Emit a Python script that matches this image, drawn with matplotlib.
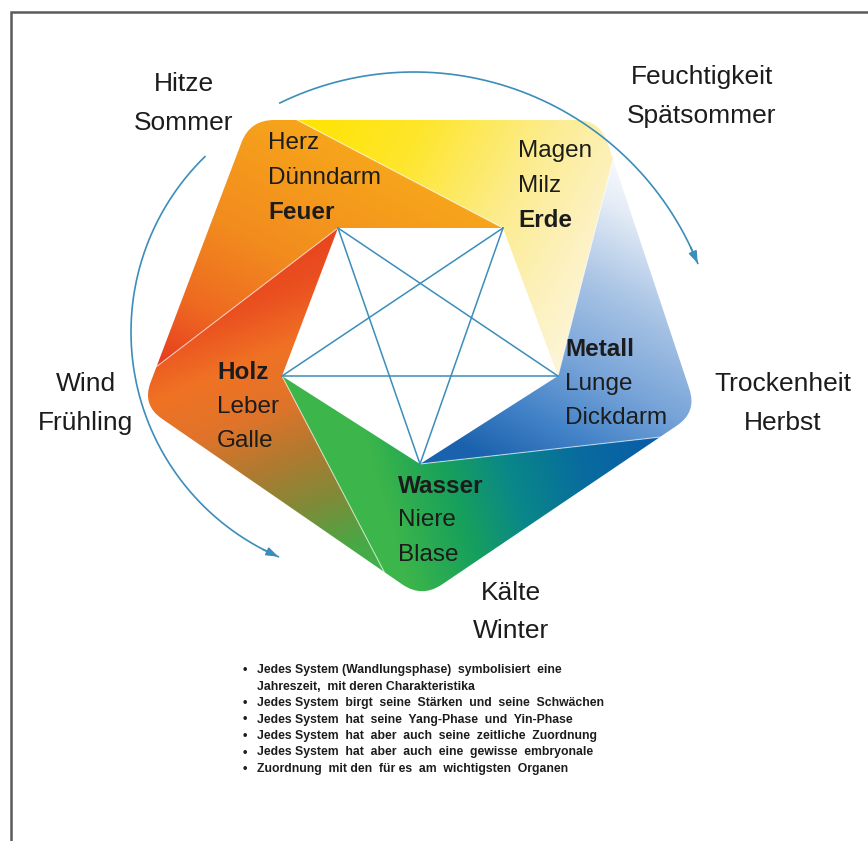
import matplotlib
matplotlib.use("Agg")
import matplotlib.pyplot as plt
import numpy as np
from matplotlib.path import Path
from matplotlib.patches import PathPatch
from matplotlib.colors import to_rgb

plt.rcParams['font.family'] = ['Liberation Sans', 'DejaVu Sans']

W, H = 868, 841

# === DIAGRAM CONTENT ===
elements = ["Feuer", "Erde", "Metall", "Wasser", "Holz"]
organs = [["Herz", "Dünndarm"], ["Magen", "Milz"], ["Lunge", "Dickdarm"],
          ["Niere", "Blase"], ["Leber", "Galle"]]
seasons = [["Hitze", "Sommer"], ["Feuchtigkeit", "Spätsommer"], ["Trockenheit", "Herbst"],
           ["Kälte", "Winter"], ["Wind", "Frühling"]]
bullets = [
    "Jedes System (Wandlungsphase)  symbolisiert  eine\nJahreszeit,  mit deren Charakteristika",
    "Jedes System  birgt  seine  Stärken  und  seine  Schwächen",
    "Jedes System  hat  seine  Yang-Phase  und  Yin-Phase",
    "Jedes System  hat  aber  auch  seine  zeitliche  Zuordnung",
    "Jedes System  hat  aber  auch  eine  gewisse  embryonale",
    "Zuordnung  mit den  für es  am  wichtigsten  Organen",
]

# === LAYOUT (pixel space, y down) ===
inner = np.array([[338, 228], [503, 228], [558, 376], [420, 464], [282, 376]], float)
outer = np.array([[250, 120], [600, 120], [697, 412], [422, 598], [142, 405]], float)
split = 0.135      # where each band boundary meets the outer edge
corner_cut = 24    # rounding of outer corners

# gradient per band: start, end, colour stops
grads = [
    ((300, 120), (170, 370), [(0, "#f7a51b"), (0.45, "#f28c1e"), (0.75, "#ee6a21"), (1, "#e63c1f")]),
    ((300, 122), (620, 300), [(0, "#ffe400"), (0.3, "#fee62c"), (0.6, "#fcec8e"), (0.8, "#fcf1bc"), (1, "#fdf7e2")]),
    ((620, 170), (470, 450), [(0, "#f5f7fb"), (0.1, "#e6edf7"), (0.35, "#a9c4e5"), (0.6, "#78a4d8"), (0.8, "#4483c8"), (1, "#1a62ad")]),
    ((660, 440), (390, 520), [(0, "#0a5ca9"), (0.3, "#086c9e"), (0.55, "#0a8888"), (0.75, "#16a05c"), (1, "#3cb54a")]),
    ((250, 250), (380, 570), [(0, "#e8401e"), (0.15, "#ea5020"), (0.3, "#f07224"), (0.45, "#e0742a"),
                              (0.6, "#b07a30"), (0.75, "#808a38"), (0.9, "#4aa745"), (1, "#3cb44a")]),
]

label_pos = [(268, 143), (518, 151), (565, 349), (398, 486), (217, 372)]
bold_first = [False, False, True, True, True]   # element name on top or at bottom
season_pos = [(184, 84), (702, 77), (783, 384), (511, 593), (86, 384)]

line_col = "#3b8dba"
txt_col = "#1c1c1c"

fig = plt.figure(figsize=(W / 100, H / 100), dpi=100)
ax = fig.add_axes([0, 0, 1, 1])
ax.set_xlim(0, W)
ax.set_ylim(H, 0)
ax.axis("off")

yy, xx = np.mgrid[0.5:H, 0.5:W]


def gradient(p0, p1, stops):
    d = np.subtract(p1, p0)
    t = ((xx - p0[0]) * d[0] + (yy - p0[1]) * d[1]) / (d @ d)
    t = np.clip(t, 0, 1)
    pos = [s[0] for s in stops]
    rgb = np.array([to_rgb(s[1]) for s in stops])
    return np.dstack([np.interp(t, pos, rgb[:, c]) for c in range(3)])


def unit(a, b):
    v = b - a
    return v / np.hypot(*v)


n = 5
P = [outer[k] + split * (outer[(k + 1) % n] - outer[k]) for k in range(n)]

for k in range(n):
    C = outer[k]
    A = C + corner_cut * unit(C, outer[(k + 1) % n])
    B = C + corner_cut * unit(C, outer[k - 1])
    verts = [inner[k], inner[(k + 1) % n], P[k], A, C, B, P[k - 1], inner[k]]
    codes = [Path.MOVETO, Path.LINETO, Path.LINETO, Path.LINETO,
             Path.CURVE3, Path.CURVE3, Path.LINETO, Path.CLOSEPOLY]
    patch = PathPatch(Path(verts, codes), facecolor="none", edgecolor="none")
    ax.add_patch(patch)
    im = ax.imshow(gradient(*grads[k]), extent=(0, W, H, 0), origin="upper",
                   interpolation="bilinear", aspect="auto", zorder=1)
    im.set_clip_path(patch)

# faint white seams between bands
for k in range(n):
    q = inner[(k + 1) % n]
    ax.plot([q[0], P[k][0]], [q[1], P[k][1]], color="white", lw=0.8, alpha=0.6, zorder=2)

# pentagram
for k in range(n):
    a, b = inner[k], inner[(k + 2) % n]
    ax.plot([a[0], b[0]], [a[1], b[1]], color=line_col, lw=1.1, zorder=3)

# arcs with arrowheads
arcs = [((414, 378), 306, -116, -22), ((376, 332), 245, 225.7, 113.5)]
for (cx, cy), r, t0, t1 in arcs:
    th = np.radians(np.linspace(t0, t1, 200))
    ax.plot(cx + r * np.cos(th), cy + r * np.sin(th), color=line_col, lw=1.2, zorder=3)
    ax.annotate("", xy=(cx + r * np.cos(th[-1]), cy + r * np.sin(th[-1])),
                xytext=(cx + r * np.cos(th[-8]), cy + r * np.sin(th[-8])),
                arrowprops=dict(arrowstyle="-|>,head_length=0.7,head_width=0.25",
                                color=line_col, lw=1.2, shrinkA=0, shrinkB=0), zorder=4)

# element / organ labels
step = 34.5
for k in range(n):
    x, y = label_pos[k]
    lines = [elements[k]] + organs[k] if bold_first[k] else organs[k] + [elements[k]]
    for i, s in enumerate(lines):
        ax.text(x, y + i * step, s, fontsize=17.5, color=txt_col, ha="left", va="center",
                fontweight="bold" if s == elements[k] else "normal", zorder=5)

# season labels
for k in range(n):
    x, y = season_pos[k]
    for i, s in enumerate(seasons[k]):
        ax.text(x, y + i * 38.5, s, fontsize=19, color=txt_col, ha="center", va="center", zorder=5)

# bullet list
by = 670
for b in bullets:
    ax.text(245, by, "•", fontsize=9, color=txt_col, ha="center", va="center", fontweight="bold")
    for ln in b.split("\n"):
        ax.text(257, by, ln, fontsize=8.8, color=txt_col, ha="left", va="center", fontweight="bold")
        by += 16.5

# frame
ax.plot([11, 11, W], [H, 12, 12], color="#5a5a5a", lw=1.8, solid_joinstyle="miter", zorder=6)

fig.savefig("out.png", dpi=100)
